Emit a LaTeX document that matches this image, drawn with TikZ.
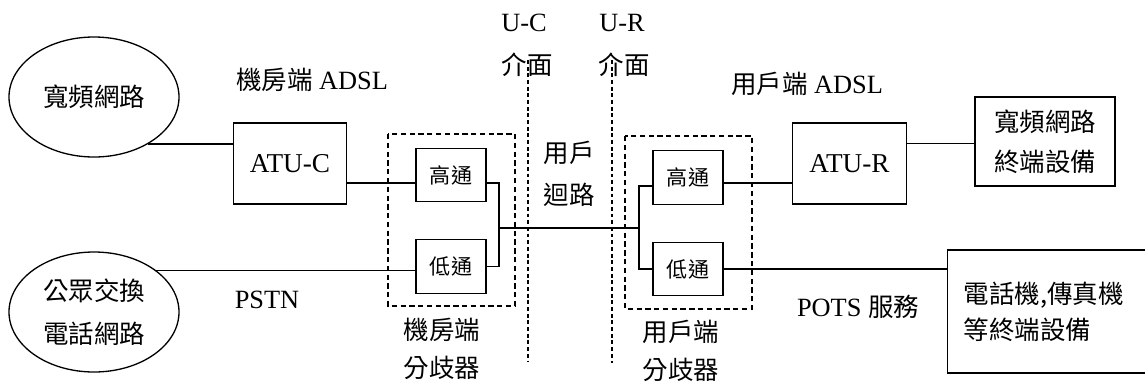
\documentclass[tikz,border=0pt]{standalone}
\usepackage{fontspec}
\setmainfont{Liberation Serif}
\newfontfamily\cjk{Noto Sans CJK TC}
\usepackage{tikz}
\usetikzlibrary{shapes.geometric}

\begin{document}
\begin{tikzpicture}[
	box/.style={draw, line width=0.7pt, inner sep=0pt},
	net/.style={ellipse, draw, line width=0.75pt, inner sep=0pt, minimum width=3.4cm, minimum height=2.4cm, align=center, font=\cjk\fontsize{14.5pt}{24.4pt}\selectfont},
	atu/.style={box, minimum width=2.27cm, minimum height=1.62cm, font=\fontsize{15.5pt}{18pt}\selectfont},
	filt/.style={box, minimum width=1.4cm, minimum height=1.07cm, font=\cjk\fontsize{12pt}{14pt}\selectfont},
	splitbox/.style={line width=0.6pt, dash pattern=on 3pt off 2pt},
	iface/.style={line width=0.6pt, dash pattern=on 2.2pt off 1.6pt},
	lbl/.style={inner sep=0pt, font=\fontsize{15pt}{18pt}\selectfont},
	cjklbl/.style={inner sep=0pt, align=center, font=\cjk\fontsize{14.5pt}{23pt}\selectfont},
	wire/.style={line width=0.7pt},
	bold wire/.style={line width=1.1pt}
]
	\useasboundingbox (0,0) rectangle (22.9,-7.64);

	% networks and end devices
	\node[net] (wide) at (1.88,-1.94) {寬頻網路};
	\node[net] (pstn) at (1.88,-6.24) {公眾交換\\電話網路};
	\node[box, align=center, minimum width=2.8cm, minimum height=1.78cm, font=\cjk\fontsize{14.5pt}{22.7pt}\selectfont] (term) at (20.9,-2.83) {寬頻網路\\終端設備};
	\node[box, anchor=west, text width=3.9cm, inner xsep=0.32cm, minimum height=2.46cm, align=left, font=\cjk\fontsize{14.5pt}{20.5pt}\selectfont] (phone) at (18.94,-6.23) {電話機,傳真機\\等終端設備};

	% modems
	\node[atu] (atuc) at (5.8,-3.27) {ATU-C};
	\node[atu] (atur) at (16.99,-3.27) {ATU-R};

	% splitters
	\draw[splitbox] (7.76,-2.68) rectangle (10.3,-6.12);
	\draw[splitbox] (12.5,-2.72) rectangle (15.04,-6.18);
	\node[filt] (hpL) at (9.02,-3.5) {高通};
	\node[filt] (lpL) at (9.02,-5.33) {低通};
	\node[filt] (hpR) at (13.76,-3.55) {高通};
	\node[filt] (lpR) at (13.76,-5.38) {低通};
	\coordinate (jL) at (9.98,-4.56);
	\coordinate (jR) at (12.78,-4.56);

	% interfaces
	\draw[iface] (10.56,-1.2) -- (10.56,-7.24);
	\draw[iface] (12.24,-1.2) -- (12.24,-7.26);

	% labels
	\node[lbl] (ucname) at (10.48,-0.46) {U-C};
	\node[cjklbl] (ucif) at (10.54,-1.3) {介面};
	\node[lbl] (urname) at (12.44,-0.46) {U-R};
	\node[cjklbl] (urif) at (12.48,-1.3) {介面};
	\node[lbl] (coadsl) at (6.24,-1.6) {{\cjk\fontsize{14.5pt}{18pt}\selectfont 機房端} ADSL};
	\node[lbl] (cpadsl) at (16.14,-1.68) {{\cjk\fontsize{14.5pt}{18pt}\selectfont 用戶端} ADSL};
	\node[cjklbl, font=\cjk\fontsize{14.5pt}{23.8pt}\selectfont] (loop) at (11.38,-3.48) {用戶\\迴路};
	\node[lbl] (pstnname) at (5.34,-6.0) {PSTN};
	\node[lbl] (pots) at (17.16,-6.14) {POTS {\cjk\fontsize{14.5pt}{18pt}\selectfont 服務}};
	\node[cjklbl, font=\cjk\fontsize{14.5pt}{21.5pt}\selectfont] (cosplit) at (8.84,-6.98) {機房端\\分歧器};
	\node[cjklbl, font=\cjk\fontsize{14.5pt}{21.5pt}\selectfont] (cpsplit) at (13.62,-7.02) {用戶端\\分歧器};

	% connections
	\draw[bold wire] (wide.-41.6) -- (wide.-41.6 -| atuc.west);
	\draw[wire] ([yshift=-0.39cm]atuc.east) -- ([yshift=-0.39cm]atuc.east -| hpL.west);
	\draw[wire] (pstn.34.7) -- (pstn.34.7 -| lpL.west);
	\draw[bold wire] ([yshift=-0.16cm]hpL.east) -| (jL) |- (lpL.east);
	\draw[wire] (jL) -- (jR);
	\draw[bold wire] ([yshift=-0.17cm]hpR.west) -| (jR) |- (lpR.west);
	\draw[wire] ([yshift=-0.11cm]hpR.east) -- ([yshift=-0.11cm]hpR.east -| atur.west);
	\draw[bold wire] ([yshift=0.4cm]atur.east) -- ([yshift=0.4cm]atur.east -| term.west);
	\draw[wire] (lpR.east) -- (lpR.east -| phone.west);
\end{tikzpicture}
\end{document}
